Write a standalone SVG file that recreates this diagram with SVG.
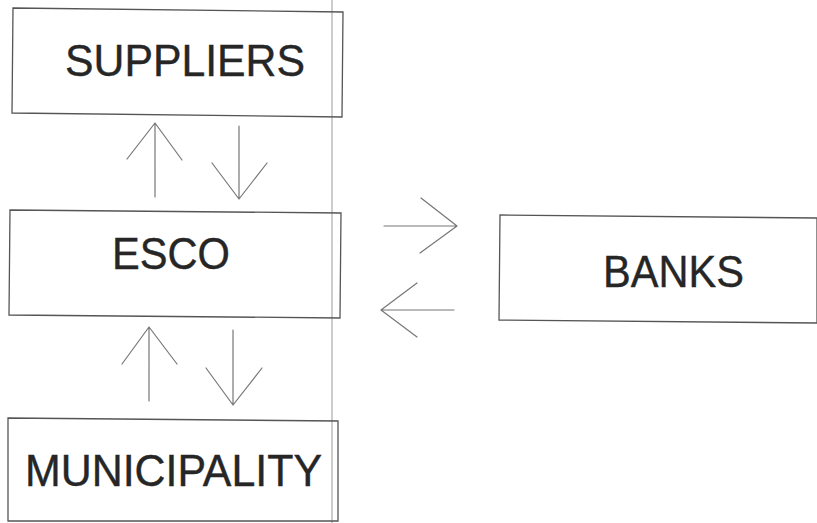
<svg xmlns="http://www.w3.org/2000/svg" width="817" height="523" viewBox="0 0 817 523">
<style>
.box{fill:none;stroke:#555;stroke-width:1.3}
.lbl{font-family:"Liberation Sans",Arial,sans-serif;font-size:45px;fill:#262626;stroke:#262626;stroke-width:0.4}
.arr{fill:none;stroke:#777;stroke-width:1.2;stroke-linecap:round;stroke-linejoin:round}
</style>
<rect x="0" y="0" width="817" height="523" fill="#fff"/>
<line x1="332" y1="0" x2="332" y2="523" stroke="#cccccc" stroke-width="2"/>
<g id="suppliers">
<polygon class="box" points="13,8 343,12 342,117 12,113"/>
<text class="lbl" x="65" y="76" textLength="240" lengthAdjust="spacingAndGlyphs">SUPPLIERS</text>
</g>
<g id="esco">
<polygon class="box" points="10,210 341,213 340,318 9,315"/>
<text class="lbl" x="112" y="269" textLength="118" lengthAdjust="spacingAndGlyphs">ESCO</text>
</g>
<g id="municipality">
<polygon class="box" points="8,418 338,421 338,521 8,521"/>
<text class="lbl" x="25" y="486" textLength="297" lengthAdjust="spacingAndGlyphs">MUNICIPALITY</text>
</g>
<g id="banks">
<polygon class="box" points="500,215 817,218 817,323 499,320"/>
<text class="lbl" x="603" y="287" textLength="141" lengthAdjust="spacingAndGlyphs">BANKS</text>
</g>
<g id="connectors">
<path class="arr" d="M155,197 L155,123 M127,159 L155,123 L182,160"/>
<path class="arr" d="M239,126 L239,199 M212,163 L239,199 L267,163"/>
<path class="arr" d="M149,401 L149,327 M122,364 L149,327 L177,364"/>
<path class="arr" d="M233,330 L233,405 M206,368 L233,405 L262,368"/>
<path class="arr" d="M384,226 L457,226 M421,198 L457,226 L420,253"/>
<path class="arr" d="M454,310 L381,310 M417,283 L381,310 L417,337"/>
</g>
</svg>
